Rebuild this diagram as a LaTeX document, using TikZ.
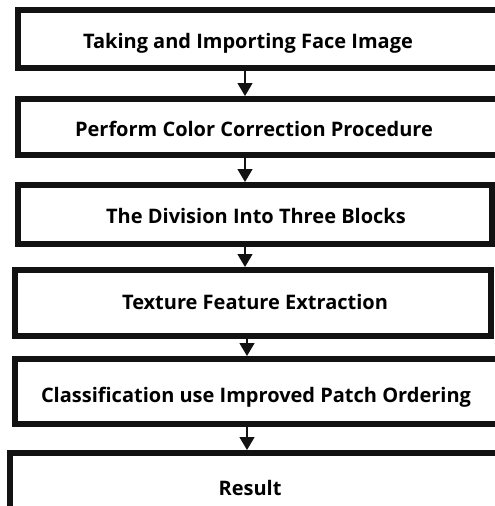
\documentclass[tikz,border=0pt]{standalone}
\usepackage{fontspec}
\setmainfont{Open Sans}
\usetikzlibrary{arrows.meta,positioning}
\tikzset{
  stepbox/.style={draw=black!93,line width=6pt,fill=white,inner sep=0pt},
  steptxt/.style={font=\bfseries\fontsize{20}{23}\selectfont,inner sep=0pt},
  flow/.style={-{Triangle[length=13pt,width=15pt]},line width=1.4pt,black!93},
}
\begin{document}
\begin{tikzpicture}[x=1pt,y=-1pt]
  \useasboundingbox (0,0) rectangle (495,506);
  \clip (0,0) rectangle (495,506);
  % boxes
  \node[stepbox,minimum width=502pt,minimum height=58pt] (b1) at (269,39) {};
  \node[stepbox,minimum width=502pt,minimum height=56pt] (b2) at (269,127) {};
  \node[stepbox,minimum width=474pt,minimum height=59pt] (b3) at (255,214.5) {};
  \node[stepbox,minimum width=476pt,minimum height=66pt] (b4) at (253,303) {};
  \node[stepbox,minimum width=505pt,minimum height=65pt] (b5) at (267.5,391.5) {};
  \node[stepbox,minimum width=510pt,minimum height=87pt] (b6) at (265,496.5) {};
  % texts
  \node[steptxt] (t1) at (248,43) {Taking and Importing Face Image};
  \node[steptxt] (t2) at (254,129) {Perform Color Correction Procedure};
  \node[steptxt] (t3) at (256,216) {The Division Into Three Blocks};
  \node[steptxt] (t4) at (255,302) {Texture Feature Extraction};
  \node[steptxt] (t5) at (256,397) {Classification use Improved Patch Ordering};
  \node[steptxt] (t6) at (250,488) {Result};
  % arrows
  \draw[flow] ([xshift=-24pt]b1.south) -- ([xshift=-24pt]b1.south |- b2.north);
  \draw[flow] ([xshift=-24pt]b2.south) -- ([xshift=-24pt]b2.south |- b3.north);
  \draw[flow] ([xshift=-10pt]b3.south) -- ([xshift=-10pt]b3.south |- b4.north);
  \draw[flow] ([xshift=-6pt]b4.south) -- ([xshift=-6pt]b4.south |- b5.north);
  \draw[flow] ([xshift=-20.5pt]b5.south) -- ([xshift=-20.5pt]b5.south |- b6.north);
\end{tikzpicture}
\end{document}
